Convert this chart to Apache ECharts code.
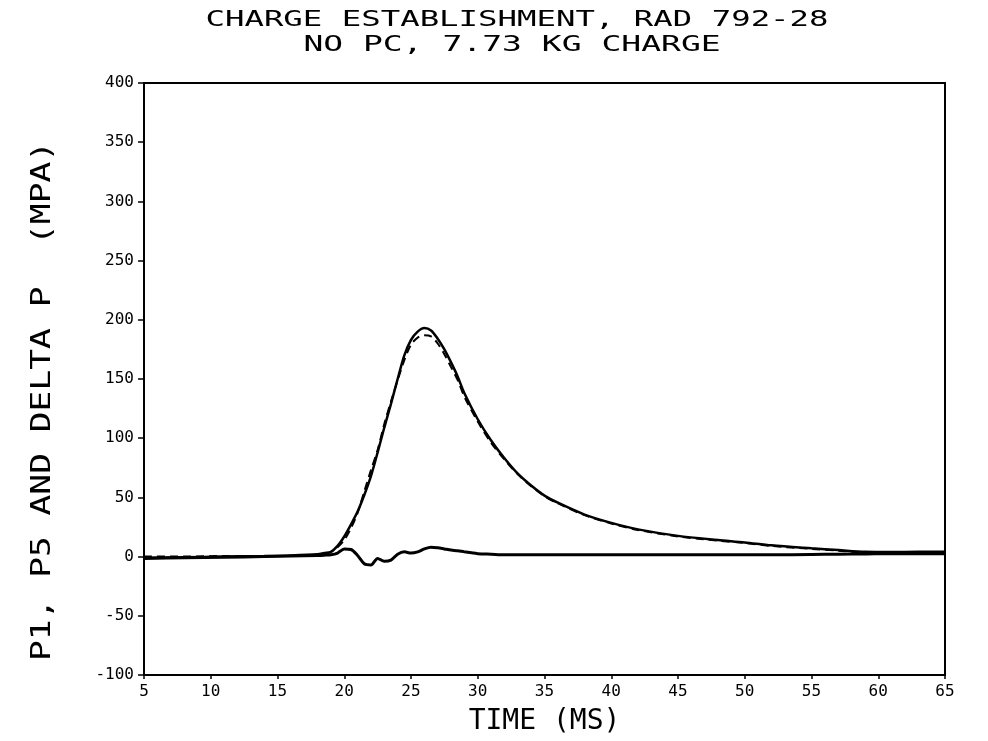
<!DOCTYPE html>
<html>
<head>
<meta charset="utf-8">
<script src="https://cdn.jsdelivr.net/npm/echarts@6/dist/echarts.min.js"></script>
<style>html,body{margin:0;padding:0;background:#fff}#c{width:988px;height:741px}</style>
</head>
<body>
<div id="c"></div>
<script>
// ---- data ----
const titleLine1 = 'CHARGE ESTABLISHMENT, RAD 792-28';
const titleLine2 = 'NO PC, 7.73 KG CHARGE';
const xName = 'TIME (MS)';
const yName = 'P1, P5 AND DELTA P  (MPA)';

const time = [5, 8, 11, 14, 16, 18, 18.5, 19, 19.5, 20, 20.5, 21, 21.5, 22, 22.5, 23, 23.5, 24, 24.5, 25, 25.5, 26, 26.5, 27, 27.5, 28, 28.5, 29, 30, 31, 32, 33, 34, 35, 36, 38, 40, 42, 45, 48, 50, 52, 55, 57, 59, 61, 63, 65];

const p1 = [-1, -0.5, 0, 0.5, 1, 2, 3, 4, 9, 17, 27, 38, 52, 68, 88, 109, 129, 150, 170, 183, 190, 193, 191, 184, 175, 164, 152, 138, 116, 98, 83, 70, 60, 51.5, 45.5, 35.5, 28.5, 23, 17.5, 14, 12, 9.5, 7, 5.5, 4, 3.8, 4, 4];

const p5 = [0, 0, 0.5, 0.5, 0.5, 1, 2, 4, 8, 14, 24, 37, 55, 73, 90, 112, 131, 149, 166, 179, 185, 187, 186, 180, 171, 160, 149, 135, 114, 96, 82, 69.5, 59.5, 51, 45, 35, 28, 22.5, 17, 13.5, 11.5, 9, 6.5, 5, 3.5, 3.5, 3.8, 4];

const deltaP = [-1.5, -1, -0.5, 0, 0.5, 1, 1.2, 1.5, 3, 6.5, 6, 1, -6, -7, -1.5, -4, -3, 2, 4, 3, 4, 6.5, 8, 7.5, 6.5, 5.5, 5, 4, 2.5, 2, 1.5, 1.5, 1.5, 1.5, 1.5, 1.5, 1.5, 1.5, 1.5, 1.5, 1.5, 1.5, 1.8, 2, 2.2, 2.5, 2.5, 2.5];

const xTicks = [5, 10, 15, 20, 25, 30, 35, 40, 45, 50, 55, 60, 65];
const yTicks = [-100, -50, 0, 50, 100, 150, 200, 250, 300, 350, 400];

// ---- chart ----
const pairs = arr => time.map((t, i) => [t, arr[i]]);
const mono = '"DejaVu Sans Mono", monospace';
const chart = echarts.init(document.getElementById('c'), null, {renderer: 'canvas'});
chart.setOption({
  backgroundColor: '#ffffff',
  animation: false,
  grid: {left: 144, right: 43, top: 83, bottom: 66, show: true, borderColor: '#000', borderWidth: 2, backgroundColor: 'transparent'},
  xAxis: {
    type: 'value', min: xTicks[0], max: xTicks[xTicks.length - 1], interval: 5,
    name: xName, nameLocation: 'middle', nameGap: 47,
    nameTextStyle: {fontFamily: mono, fontSize: 28, color: '#000', verticalAlign: 'middle'},
    axisLine: {onZero: false, lineStyle: {color: '#000', width: 2}},
    axisTick: {show: true, length: 4, lineStyle: {color: '#000', width: 1.5}},
    axisLabel: {fontFamily: mono, fontSize: 16, color: '#000', margin: 9},
    splitLine: {show: false}
  },
  yAxis: {
    type: 'value', min: yTicks[0], max: yTicks[yTicks.length - 1], interval: 50,
    axisLine: {show: true, lineStyle: {color: '#000', width: 2}},
    axisTick: {show: true, length: 6, lineStyle: {color: '#000', width: 1.5}},
    axisLabel: {fontFamily: mono, fontSize: 16, color: '#000', margin: 10},
    splitLine: {show: false}
  },
  graphic: [
    {type: 'text', x: 517, y: 20, scaleX: 1.47, silent: true,
     style: {text: titleLine1, font: '22px ' + mono, fill: '#000', textAlign: 'center', textVerticalAlign: 'middle'}},
    {type: 'text', x: 512, y: 45, scaleX: 1.5, silent: true,
     style: {text: titleLine2, font: '22px ' + mono, fill: '#000', textAlign: 'center', textVerticalAlign: 'middle'}},
    {type: 'text', x: 43, y: 401, rotation: Math.PI / 2, scaleX: 1.28, silent: true,
     style: {text: yName, font: '27px ' + mono, fill: '#000', textAlign: 'center', textVerticalAlign: 'middle'}}
  ],
  series: [
    {name: 'P5', type: 'line', data: pairs(p5), showSymbol: false, smooth: 0.3, z: 2,
     lineStyle: {color: '#000', width: 2, type: [8, 5]}},
    {name: 'DELTA P', type: 'line', data: pairs(deltaP), showSymbol: false, smooth: 0.3, z: 3,
     lineStyle: {color: '#000', width: 3}},
    {name: 'P1', type: 'line', data: pairs(p1), showSymbol: false, smooth: 0.3, z: 4,
     lineStyle: {color: '#000', width: 2.5}}
  ]
});
</script>
</body>
</html>
